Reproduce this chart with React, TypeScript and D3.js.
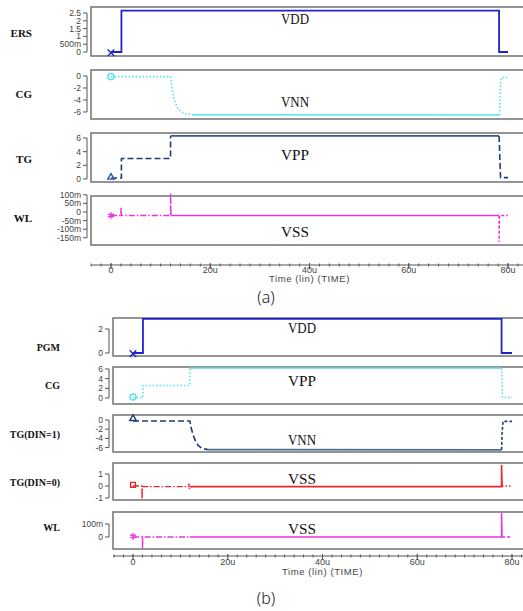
import React, { useEffect, useRef } from "react";
import * as d3 from "d3";

type Pt = [number, number];

// time axis
const timeTicks = [0, 20, 40, 60, 80];
const timeTickLabels = ["0", "20u", "40u", "60u", "80u"];
const timeMinor = d3.range(-4, 84, 2);

// ---- (a) erase ----
const ersTicks = [0, 0.5, 1, 1.5, 2, 2.5];
const ersTickLabels = ["0", "500m", "1", "1.5", "2", "2.5"];
const ersA: Pt[] = [[0, 0], [2.1, 0], [2.1, 2.65], [78.2, 2.65], [78.2, 0], [80, 0]];

const cgATicks = [0, -2, -4, -6];
const cgATickLabels = ["0", "-2", "-4", "-6"];
const cgAEarly: Pt[] = [[0, -0.1], [12, -0.1], [12.2, -1.6], [12.5, -3.0], [12.9, -4.3], [13.4, -5.3], [14, -5.9], [15, -6.3], [16.5, -6.45]];
const cgAMain: Pt[] = [[16.5, -6.45], [78.3, -6.5]];
const cgALate: Pt[] = [[78.3, -6.5], [78.4, -3], [78.6, -0.3], [80.2, -0.2]];

const tgATicks = [0, 2, 4, 6];
const tgATickLabels = ["0", "2", "4", "6"];
const tgAEarly: Pt[] = [[0, 0.15], [2.1, 0.15], [2.1, 3], [12, 3], [12, 6.3]];
const tgAMain: Pt[] = [[12, 6.3], [78.2, 6.3]];
const tgALate: Pt[] = [[78.2, 6.3], [78.5, 0.2], [80, 0.2]];

const wlATicks = [0.1, 0.05, 0, -0.05, -0.1, -0.15];
const wlATickLabels = ["100m", "50m", "0", "-50m", "-100m", "-150m"];
const wlAEarly: Pt[] = [[0, -0.02], [2, -0.02], [2, 0.03], [2.1, -0.02], [12, -0.02], [12, 0.11], [12.1, -0.02]];
const wlAMain: Pt[] = [[12.1, -0.02], [78.2, -0.02]];
const wlALate: Pt[] = [[78.2, -0.02], [78.2, -0.175], [78.3, -0.02], [80, -0.02]];

// ---- (b) program ----
const pgmTicks = [0, 2];
const pgmTickLabels = ["0", "2"];
const pgmB: Pt[] = [[0, 0], [2.1, 0], [2.1, 2.85], [77.8, 2.85], [77.8, 0], [80, 0]];

const cgBTicks = [0, 2, 4, 6];
const cgBTickLabels = ["0", "2", "4", "6"];
const cgBEarly: Pt[] = [[0, 0.1], [2.1, 0.1], [2.1, 2.6], [12, 2.6], [12, 6.2]];
const cgBMain: Pt[] = [[12, 6.2], [77.8, 6.2]];
const cgBLate: Pt[] = [[77.8, 6.2], [78, 0.1], [80, 0.1]];

const tg1Ticks = [0, -2, -4, -6];
const tg1TickLabels = ["0", "-2", "-4", "-6"];
const tg1Early: Pt[] = [[0, -0.2], [12, -0.2], [12.3, -1.8], [12.7, -3.3], [13.2, -4.6], [13.8, -5.6], [14.6, -6.2], [15.8, -6.45]];
const tg1Main: Pt[] = [[15.8, -6.45], [77.8, -6.5]];
const tg1Late: Pt[] = [[77.8, -6.5], [77.9, -3], [78.1, -0.3], [80, -0.3]];

const tg0Ticks = [1, 0, -1];
const tg0TickLabels = ["1", "0", "-1"];
const tg0Early: Pt[] = [[0, 0], [1.9, 0], [1.9, -1.1], [2.0, -0.05], [11.8, -0.05], [11.8, 0.2], [11.9, -0.25], [12, -0.05]];
const tg0Main: Pt[] = [[12, -0.05], [77.8, -0.05], [77.8, 1.75], [77.9, 0]];
const tg0Late: Pt[] = [[77.9, 0], [80, 0]];

const wlBTicks = [0.1, 0];
const wlBTickLabels = ["100m", "0"];
const wlBEarly: Pt[] = [[0, 0], [2, 0], [2, -0.09], [2.1, 0], [12, 0]];
const wlBMain: Pt[] = [[12, 0], [77.8, 0], [77.8, 0.185], [77.9, 0]];
const wlBLate: Pt[] = [[77.9, 0], [80, 0]];

const BLUE = "#2222cc";
const CYAN = "#55e6e6";
const NAVY = "#1f3d6e";
const STEEL = "#4d6d8f";
const RED = "#e8262a";
const MAG = "#e832dc";

const DOT = "1.5,2";
const DASH = "6,3";
const DASHDOT = "6,2,1.5,2";

function App() {
  const ref = useRef<SVGSVGElement>(null);

  useEffect(() => {
    const svg = d3.select(ref.current);
    svg.selectAll("*").remove();

    const groups = [
      {
        frameLeft: 91,
        x: d3.scaleLinear().domain([0, 80]).range([111, 508]),
        axisY: 265,
        tickY: 273,
        titleY: 282,
        caption: "(a)",
        captionY: 303,
        labelX: 32,
        labelSize: 11,
        noteX: 295,
        panels: [
          { top: 7, bottom: 56, domain: [-0.256, 2.885], ticks: ersTicks, labels: ersTickLabels, name: "ERS", nameY: 37, note: "VDD", noteY: 24,
            segs: [{ pts: ersA, color: BLUE, dash: null, w: 1.8 }], marker: { pt: [0, -0.05], sym: d3.symbolTimes, color: BLUE } },
          { top: 70, bottom: 119, domain: [-7.17, 1], ticks: cgATicks, labels: cgATickLabels, name: "CG", nameY: 98, note: "VNN", noteY: 107,
            segs: [{ pts: cgAEarly, color: CYAN, dash: DOT, w: 1.6 }, { pts: cgAMain, color: CYAN, dash: null, w: 1.6 }, { pts: cgALate, color: CYAN, dash: DOT, w: 1.6 }],
            marker: { pt: [0, -0.1], sym: d3.symbolCircle, color: CYAN } },
          { top: 133, bottom: 182, domain: [-0.44, 6.73], ticks: tgATicks, labels: tgATickLabels, name: "TG", nameY: 163, note: "VPP", noteY: 160,
            segs: [{ pts: tgAEarly, color: NAVY, dash: DASH, w: 1.6 }, { pts: tgAMain, color: "#3a5a82", dash: null, w: 1.8 }, { pts: tgALate, color: NAVY, dash: DASH, w: 1.6 }],
            marker: { pt: [0, 0.25], sym: d3.symbolTriangle2, color: "#3355aa" } },
          { top: 196, bottom: 245, domain: [-0.192, 0.093], ticks: wlATicks, labels: wlATickLabels, name: "WL", nameY: 222, note: "VSS", noteY: 237,
            segs: [{ pts: wlAEarly, color: MAG, dash: DASHDOT, w: 1.4 }, { pts: wlAMain, color: MAG, dash: null, w: 1.4 }, { pts: wlALate, color: MAG, dash: "3,2", w: 1.4 }],
            marker: { pt: [0, -0.02], sym: d3.symbolAsterisk, color: MAG } },
        ],
      },
      {
        frameLeft: 113,
        x: d3.scaleLinear().domain([0, 80]).range([133, 512]),
        axisY: 556,
        tickY: 565,
        titleY: 575,
        caption: "(b)",
        captionY: 604,
        labelX: 60,
        labelSize: 10,
        noteX: 302,
        panels: [
          { top: 318, bottom: 356, domain: [-0.25, 2.917], ticks: pgmTicks, labels: pgmTickLabels, name: "PGM", nameY: 351, note: "VDD", noteY: 333,
            segs: [{ pts: pgmB, color: BLUE, dash: null, w: 1.8 }], marker: { pt: [0, -0.05], sym: d3.symbolTimes, color: BLUE } },
          { top: 367, bottom: 404, domain: [-1.24, 6.41], ticks: cgBTicks, labels: cgBTickLabels, name: "CG", nameY: 389, note: "VPP", noteY: 386,
            segs: [{ pts: cgBEarly, color: CYAN, dash: DOT, w: 1.6 }, { pts: cgBMain, color: "#5fd8d0", dash: null, w: 1.6 }, { pts: cgBLate, color: CYAN, dash: DOT, w: 1.6 }],
            marker: { pt: [0, 0.2], sym: d3.symbolCircle, color: CYAN } },
          { top: 415, bottom: 452, domain: [-6.96, 1.09], ticks: tg1Ticks, labels: tg1TickLabels, name: "TG(DIN=1)", nameY: 438, note: "VNN", noteY: 445,
            segs: [{ pts: tg1Early, color: NAVY, dash: DASH, w: 1.6 }, { pts: tg1Main, color: STEEL, dash: null, w: 1.8 }, { pts: tg1Late, color: NAVY, dash: "3,2", w: 1.6 }],
            marker: { pt: [0, 0.3], sym: d3.symbolTriangle2, color: NAVY } },
          { top: 463, bottom: 500, domain: [-1.167, 1.917], ticks: tg0Ticks, labels: tg0TickLabels, name: "TG(DIN=0)", nameY: 486, note: "VSS", noteY: 484,
            segs: [{ pts: tg0Early, color: RED, dash: DASHDOT, w: 1.4 }, { pts: tg0Main, color: RED, dash: null, w: 1.6 }, { pts: tg0Late, color: RED, dash: DOT, w: 1.4 }],
            marker: { pt: [0, 0.1], sym: d3.symbolSquare2, color: RED } },
          { top: 512, bottom: 549, domain: [-0.092, 0.192], ticks: wlBTicks, labels: wlBTickLabels, name: "WL", nameY: 531, note: "VSS", noteY: 534,
            segs: [{ pts: wlBEarly, color: MAG, dash: DASHDOT, w: 1.4 }, { pts: wlBMain, color: MAG, dash: null, w: 1.5 }, { pts: wlBLate, color: MAG, dash: "3,2", w: 1.4 }],
            marker: { pt: [0, 0.005], sym: d3.symbolAsterisk, color: MAG } },
        ],
      },
    ];

    groups.forEach((g) => {
      const x = g.x;
      const axisX = g.frameLeft - 4;

      g.panels.forEach((p) => {
        const y = d3.scaleLinear().domain(p.domain).range([p.bottom, p.top]);

        // frame
        svg.append("rect")
          .attr("x", g.frameLeft)
          .attr("y", p.top)
          .attr("width", 540 - g.frameLeft)
          .attr("height", p.bottom - p.top)
          .attr("fill", "none")
          .attr("stroke", "#7a7a7a")
          .attr("stroke-width", 1.6);

        // y axis
        const tys = p.ticks.map((t) => y(t));
        svg.append("line")
          .attr("x1", axisX).attr("x2", axisX)
          .attr("y1", d3.min(tys)).attr("y2", d3.max(tys))
          .attr("stroke", "#555").attr("stroke-width", 1);
        p.ticks.forEach((t, i) => {
          svg.append("line")
            .attr("x1", axisX - 4).attr("x2", axisX)
            .attr("y1", y(t)).attr("y2", y(t))
            .attr("stroke", "#555").attr("stroke-width", 1);
          svg.append("text")
            .attr("x", axisX - 6)
            .attr("y", y(t))
            .attr("dy", "0.35em")
            .attr("text-anchor", "end")
            .style("font-family", "'Liberation Sans', Arial, sans-serif")
            .style("font-size", "8.5px")
            .style("fill", "#444")
            .text(p.labels[i]);
        });

        // signal name
        svg.append("text")
          .attr("x", g.labelX)
          .attr("y", p.nameY)
          .attr("text-anchor", "end")
          .style("font-family", "'Liberation Serif', 'Times New Roman', serif")
          .style("font-weight", "bold")
          .style("font-size", g.labelSize + "px")
          .style("fill", "#111")
          .text(p.name);

        // waveform
        const line = d3.line<Pt>().x((d) => x(d[0])).y((d) => y(d[1]));
        p.segs.forEach((s) => {
          svg.append("path")
            .attr("d", line(s.pts))
            .attr("fill", "none")
            .attr("stroke", s.color)
            .attr("stroke-width", s.w)
            .attr("stroke-dasharray", s.dash)
            .attr("stroke-linejoin", "miter");
        });

        svg.append("path")
          .attr("d", d3.symbol(p.marker.sym, 30)())
          .attr("transform", "translate(" + x(p.marker.pt[0]) + "," + y(p.marker.pt[1]) + ")")
          .attr("fill", "none")
          .attr("stroke", p.marker.color)
          .attr("stroke-width", 1.4);

        // level annotation
        svg.append("text")
          .attr("x", g.noteX)
          .attr("y", p.noteY)
          .attr("text-anchor", "middle")
          .attr("textLength", 28)
          .attr("lengthAdjust", "spacingAndGlyphs")
          .style("font-family", "'Liberation Serif', 'Times New Roman', serif")
          .style("font-size", "15px")
          .style("fill", "#111")
          .text(p.note);
      });

      // time axis
      svg.append("line")
        .attr("x1", g.frameLeft).attr("x2", 523)
        .attr("y1", g.axisY).attr("y2", g.axisY)
        .attr("stroke", "#555").attr("stroke-width", 1);
      timeMinor.forEach((t) => {
        svg.append("line")
          .attr("x1", x(t)).attr("x2", x(t))
          .attr("y1", g.axisY - 1.5).attr("y2", g.axisY + 1.5)
          .attr("stroke", "#555").attr("stroke-width", 1);
      });
      timeTicks.forEach((t, i) => {
        svg.append("line")
          .attr("x1", x(t)).attr("x2", x(t))
          .attr("y1", g.axisY - 2).attr("y2", g.axisY + 4)
          .attr("stroke", "#555").attr("stroke-width", 1);
        svg.append("text")
          .attr("x", x(t))
          .attr("y", g.tickY)
          .attr("text-anchor", "middle")
          .style("font-family", "'Liberation Sans', Arial, sans-serif")
          .style("font-size", "9px")
          .style("fill", "#444")
          .text(timeTickLabels[i]);
      });
      svg.append("text")
        .attr("x", x(40))
        .attr("y", g.titleY)
        .attr("text-anchor", "middle")
        .style("font-family", "'Liberation Sans', Arial, sans-serif")
        .style("font-size", "9.5px")
        .style("letter-spacing", "0.6px")
        .style("fill", "#444")
        .text("Time (lin) (TIME)");

      svg.append("text")
        .attr("x", 266)
        .attr("y", g.captionY)
        .attr("text-anchor", "middle")
        .style("font-family", "'Noto Sans', 'DejaVu Sans', sans-serif")
        .style("font-size", "16px")
        .style("font-weight", 300)
        .style("fill", "#222")
        .text(g.caption);
    });
  }, []);

  return (
    <svg
      ref={ref}
      width={523}
      height={611}
      style={{ position: "absolute", left: 0, top: 0, background: "#fff" }}
    ></svg>
  );
}

export default App;
